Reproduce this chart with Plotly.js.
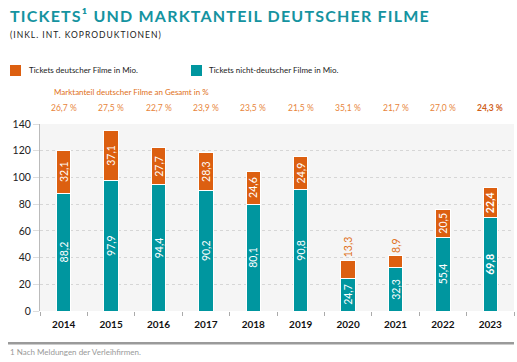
<!DOCTYPE html>
<html>
<head>
<meta charset="utf-8">
<script src="https://cdn.plot.ly/plotly-3.0.1.min.js"></script>
<style>
html,body{margin:0;padding:0;background:#fff;}
#chart{width:517px;height:362px;}
</style>
</head>
<body>
<div id="chart"></div>
<script>
var years = ['2014','2015','2016','2017','2018','2019','2020','2021','2022','2023'];
var ticketsGerman = [32.1, 37.1, 27.7, 28.3, 24.6, 24.9, 13.3, 8.9, 20.5, 22.4];
var ticketsForeign = [88.2, 97.9, 94.4, 90.2, 80.1, 90.8, 24.7, 32.3, 55.4, 69.8];
var shareGerman = ['26,7 %','27,5 %','22,7 %','23,9 %','23,5 %','21,5 %','35,1 %','21,7 %','27,0 %','24,3 %'];
var germanLabelPos = ['inside','inside','inside','inside','inside','inside','outside','outside','inside','inside'];
var legendNames = ['Tickets deutscher Filme in Mio.', 'Tickets nicht-deutscher Filme in Mio.'];

var ORANGE = '#dc5f10';
var TEAL = '#00969f';
var FONT = 'Lato, "Open Sans", sans-serif';

function fmt(v, i){
  var s = v.toFixed(1).replace('.', ',');
  return i === years.length - 1 ? '<b>' + s + '</b>' : s;
}

var traces = [
  {
    type: 'bar', name: legendNames[1],
    x: years, y: ticketsForeign,
    text: ticketsForeign.map(fmt),
    textposition: 'inside', textangle: -90, insidetextanchor: 'middle',
    constraintext: 'none',
    textfont: {family: FONT, size: 10.5, color: '#ffffff'},
    marker: {color: TEAL, line: {color: '#ffffff', width: 1}},
    width: 0.3, hoverinfo: 'none'
  },
  {
    type: 'bar', name: legendNames[0],
    x: years, y: ticketsGerman,
    text: ticketsGerman.map(fmt),
    textposition: germanLabelPos, textangle: -90, insidetextanchor: 'middle',
    constraintext: 'none', cliponaxis: false,
    textfont: {family: FONT, size: 10.5, color: '#ffffff'},
    insidetextfont: {family: FONT, size: 10.5, color: '#ffffff'},
    outsidetextfont: {family: FONT, size: 10.5, color: '#e07020'},
    marker: {color: ORANGE, line: {color: '#ffffff', width: 1}},
    width: 0.3, hoverinfo: 'none'
  }
];

var annotations = [
  {
    xref: 'paper', yref: 'paper', x: -0.0675, y: 1.4759, xanchor: 'left', yanchor: 'middle',
    text: '<span style="letter-spacing:1.2px">TICKETS¹ UND MARKTANTEIL DEUTSCHER FILME</span>',
    showarrow: false, font: {family: FONT, size: 16, color: '#1593a0', weight: 700}
  },
  {
    xref: 'paper', yref: 'paper', x: -0.0675, y: 1.3904, xanchor: 'left', yanchor: 'middle',
    text: '<span style="letter-spacing:1px">(INKL. INT. KOPRODUKTIONEN)</span>',
    showarrow: false, font: {family: FONT, size: 8.5, color: '#222222'}
  },
  {
    xref: 'paper', yref: 'paper', x: -0.0274, y: 1.2368, xanchor: 'left', yanchor: 'middle',
    text: legendNames[0], showarrow: false, font: {family: FONT, size: 8, color: '#222222'}
  },
  {
    xref: 'paper', yref: 'paper', x: 0.3523, y: 1.2368, xanchor: 'left', yanchor: 'middle',
    text: legendNames[1], showarrow: false, font: {family: FONT, size: 8, color: '#222222'}
  },
  {
    xref: 'paper', yref: 'paper', x: 0.025, y: 1.1404, xanchor: 'left', yanchor: 'middle',
    text: 'Marktanteil deutscher Filme an Gesamt in %',
    showarrow: false, font: {family: FONT, size: 8, color: '#e07020'}
  },
  {
    xref: 'paper', yref: 'paper', x: -0.0675, y: 0.0, xanchor: 'left', yanchor: 'middle',
    text: '1 Nach Meldungen der Verleihfirmen.',
    showarrow: false, font: {family: FONT, size: 8, color: '#999999'}
  }
];
years.forEach(function(yr, i){
  var last = i === years.length - 1;
  annotations.push({
    xref: 'x', yref: 'paper', x: i, y: 1.0702, xanchor: 'center', yanchor: 'middle',
    text: last ? '<b>' + shareGerman[i] + '</b>' : shareGerman[i],
    showarrow: false,
    font: {family: FONT, size: 8.5, color: last ? '#d0601a' : '#e8853a'}
  });
});

var layout = {
  width: 517, height: 362,
  margin: {l: 40, r: 3, t: 124, b: 10},
  paper_bgcolor: '#ffffff', plot_bgcolor: '#f5f5f5',
  barmode: 'stack',
  font: {family: FONT, size: 10, color: '#222222'},
  showlegend: false,
  xaxis: {
    type: 'category', range: [-0.5, 9.5], fixedrange: true, anchor: 'y',
    showline: false, ticks: 'outside', tickson: 'boundaries', ticklen: 4,
    tickcolor: '#aaaaaa', showgrid: false, ticklabelstandoff: 6,
    tickfont: {family: FONT, size: 10, color: '#111111', weight: 700}
  },
  yaxis: {
    domain: [0.1798, 1],
    range: [0, 140], dtick: 20, fixedrange: true,
    showline: true, linecolor: '#bbbbbb', linewidth: 1,
    ticks: 'outside', ticklen: 6, tickcolor: '#dddddd',
    gridcolor: '#d6d6d6', griddash: 'dot', gridwidth: 1,
    zeroline: false,
    tickfont: {family: FONT, size: 10.5, color: '#222222'}
  },
  shapes: [
    {type: 'rect', xref: 'paper', yref: 'paper', x0: -0.0633, x1: -0.0401, y0: 1.2105, y1: 1.2588,
     fillcolor: ORANGE, line: {width: 0}},
    {type: 'rect', xref: 'paper', yref: 'paper', x0: 0.3186, x1: 0.3418, y0: 1.2105, y1: 1.2588,
     fillcolor: TEAL, line: {width: 0}},
    {type: 'rect', xref: 'paper', yref: 'paper', x0: -0.0675, x1: 1.0, y0: 0.0329, y1: 0.0439,
     fillcolor: '#9a9a9a', line: {width: 0}}
  ],
  annotations: annotations
};

Plotly.newPlot('chart', traces, layout, {displayModeBar: false, staticPlot: true});
</script>
</body>
</html>
